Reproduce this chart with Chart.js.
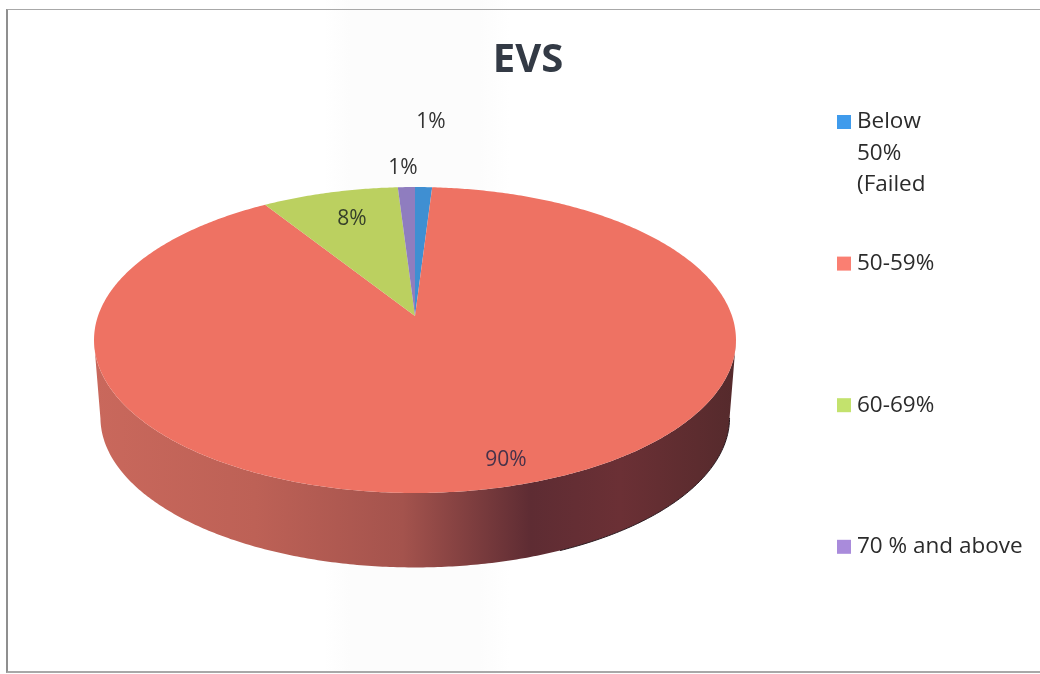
<!DOCTYPE html>
<html>
<head>
<meta charset="utf-8">
<style>
  html, body { margin: 0; padding: 0; background: #fff; }
  #wrap { position: relative; width: 1040px; height: 674px; overflow: hidden;
    background: linear-gradient(90deg, #fff 0, #fff 325px, #fcfcfc 350px, #fcfcfc 480px, #fff 510px, #fff 100%); }
  #frame { position: absolute; left: 6px; top: 9px; width: 1040px; height: 664px;
    border-left: 2px solid #8f8f8f; border-top: 1px solid #a8a8a8; border-bottom: 2px solid #a8a8a8; box-sizing: border-box; }
  canvas { position: absolute; left: 0; top: 0; }
</style>
</head>
<body>
<div id="wrap">
  <div id="frame"></div>
  <canvas id="myCanvas" width="1040" height="674"></canvas>
</div>
<script src="https://cdn.jsdelivr.net/npm/chart.js@4"></script>
<script>
var titolo = 'EVS';
var categorie = ['Below 50% (Failed', '50-59%', '60-69%', '70 % and above'];
var legendaRighe = [['Below', '50%', '(Failed'], ['50-59%'], ['60-69%'], ['70 % and above']];
var valori = [1, 90, 8, 1];
var etichette = ['1%', '90%', '8%', '1%'];

var coloriFetta = ['#3f8fd2', '#ee7263', '#bbd060', '#8f7dbf'];
var coloriLegenda = ['#3f9bec', '#fa7f72', '#c3e26d', '#a98bdb'];
var coloriTesto = ['#333333', '#46324a', '#36402a', '#333333'];
var posEtichette = [[431, 122], [506, 460], [352, 219], [403, 168]];

var font = '"Open Sans", sans-serif';

// the pie is a flat disc seen in perspective
var cx = 415, cyTop = 316, cyBase = 394;
var A = 317, B = 149.2, k = 0.157, scalaBase = 0.98;

function proietta(ang, cy, s) {
  var u = Math.cos(ang), v = -Math.sin(ang), d = 1 + k * v;
  return { x: cx + s * A * u / d, y: cy - s * B * v / d };
}

function disegnaFetta(ctx, start, end, colore) {
  ctx.beginPath();
  ctx.moveTo(cx, cyTop);
  var n = Math.max(4, Math.ceil((end - start) / 0.01));
  for (var j = 0; j <= n; j++) {
    var p = proietta(start + (end - start) * j / n, cyTop, 1);
    ctx.lineTo(p.x, p.y);
  }
  ctx.closePath();
  ctx.fillStyle = colore;
  ctx.fill();
}

function disegnaParete(ctx, start, end) {
  var grad = ctx.createLinearGradient(95, 0, 736, 0);
  grad.addColorStop(0, '#c9685c');
  grad.addColorStop(0.25, '#bd6156');
  grad.addColorStop(0.48, '#a4534d');
  grad.addColorStop(0.68, '#5e2c33');
  grad.addColorStop(0.82, '#6b3035');
  grad.addColorStop(1, '#552a2c');

  // only the front of the disc shows a wall
  var angoli = [];
  var n = Math.ceil((end - start) / 0.01);
  for (var j = 0; j <= n; j++) {
    var a = start + (end - start) * j / n;
    if (Math.sin(a) > k) angoli.push(a);
  }
  if (angoli.length < 2) return;

  ctx.beginPath();
  angoli.forEach(function (a, i) {
    var p = proietta(a, cyTop, 1);
    if (i === 0) ctx.moveTo(p.x, p.y); else ctx.lineTo(p.x, p.y);
  });
  angoli.slice().reverse().forEach(function (a) {
    var q = proietta(a, cyBase, scalaBase);
    ctx.lineTo(q.x, q.y);
  });
  ctx.closePath();
  ctx.fillStyle = grad;
  ctx.fill();

  // dark line under the shaded side
  ctx.beginPath();
  var inizio = true;
  angoli.forEach(function (a) {
    var q = proietta(a, cyBase, scalaBase);
    if (q.x < 560) return;
    if (inizio) { ctx.moveTo(q.x, q.y); inizio = false; } else ctx.lineTo(q.x, q.y);
  });
  ctx.strokeStyle = '#2a1a20';
  ctx.lineWidth = 1;
  ctx.stroke();
}

var torta3d = {
  id: 'torta3d',
  beforeDatasetsDraw: function (chart) {
    var ctx = chart.ctx;
    var archi = chart.getDatasetMeta(0).data;
    ctx.save();
    archi.forEach(function (arco) {
      disegnaParete(ctx, arco.startAngle, arco.endAngle);
    });
    archi.forEach(function (arco, i) {
      disegnaFetta(ctx, arco.startAngle, arco.endAngle, coloriFetta[i]);
    });
    ctx.restore();
    return false;
  },
  afterDraw: function (chart) {
    var ctx = chart.ctx;
    ctx.save();
    ctx.textBaseline = 'middle';
    // data labels
    ctx.textAlign = 'center';
    ctx.font = '21px ' + font;
    etichette.forEach(function (t, i) {
      ctx.fillStyle = coloriTesto[i];
      ctx.fillText(t, posEtichette[i][0], posEtichette[i][1]);
    });
    // legend
    ctx.textAlign = 'left';
    ctx.font = '22.5px ' + font;
    legendaRighe.forEach(function (righe, i) {
      var y = 122 + i * 141.6;
      ctx.fillStyle = coloriLegenda[i];
      ctx.fillRect(837, y - 7, 14, 14);
      ctx.fillStyle = '#2b2b2b';
      righe.forEach(function (r, j) {
        ctx.fillText(r, 857, y + j * 31.5);
      });
    });
    ctx.restore();
  }
};

new Chart(document.querySelector('#myCanvas').getContext('2d'), {
  type: 'pie',
  data: {
    labels: categorie,
    datasets: [{ data: valori, backgroundColor: coloriFetta, borderWidth: 0 }]
  },
  options: {
    responsive: false,
    animation: false,
    layout: { padding: { left: 16, top: 37 } },
    plugins: {
      legend: { display: false },
      tooltip: { enabled: false },
      title: {
        display: true,
        text: titolo,
        fullSize: false,
        color: '#333a45',
        padding: 0,
        font: { family: font, size: 40, weight: 'bold' }
      }
    }
  },
  plugins: [torta3d]
});
</script>
</body>
</html>
